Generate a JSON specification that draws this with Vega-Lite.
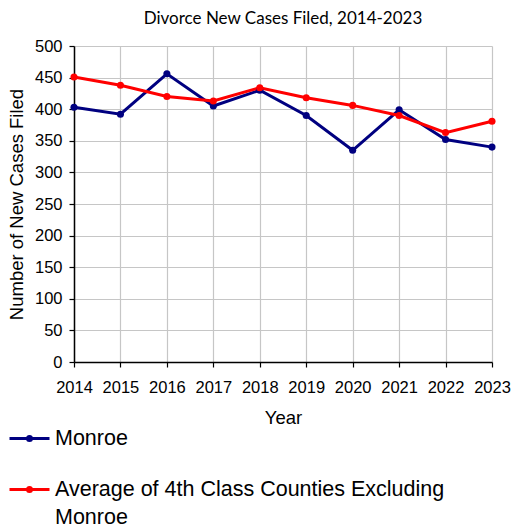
{
  "$schema": "https://vega.github.io/schema/vega-lite/v6.json",
  "width": 418,
  "height": 316,
  "autosize": {"type": "none"},
  "padding": {"left": 74, "top": 46, "right": 21, "bottom": 167},
  "background": "white",
  "title": {"text": "Divorce New Cases Filed, 2014-2023", "fontSize": 17, "font": "Lato", "fontWeight": "normal", "color": "black", "offset": 10, "anchor": "middle"},
  "config": {
    "view": {"stroke": null},
    "axis": {"labelFont": "Liberation Sans", "titleFont": "Liberation Sans", "labelFontSize": 16.5, "titleFontSize": 18.5, "titleFontWeight": "normal", "labelColor": "black", "titleColor": "black", "domainColor": "black", "domainWidth": 1.5, "tickColor": "black", "tickSize": 5, "tickWidth": 1.2, "gridColor": "#c6c6c6", "gridWidth": 1.2, "gridOpacity": 1, "labelOverlap": false, "labelFlush": false}
  },
  "data": {"values": [
    {"year": 2014, "series": "Monroe", "value": 403},
    {"year": 2015, "series": "Monroe", "value": 392},
    {"year": 2016, "series": "Monroe", "value": 456},
    {"year": 2017, "series": "Monroe", "value": 405},
    {"year": 2018, "series": "Monroe", "value": 430},
    {"year": 2019, "series": "Monroe", "value": 390},
    {"year": 2020, "series": "Monroe", "value": 335},
    {"year": 2021, "series": "Monroe", "value": 399},
    {"year": 2022, "series": "Monroe", "value": 352},
    {"year": 2023, "series": "Monroe", "value": 340},
    {"year": 2014, "series": "Average of 4th Class Counties Excluding Monroe", "value": 451},
    {"year": 2015, "series": "Average of 4th Class Counties Excluding Monroe", "value": 438},
    {"year": 2016, "series": "Average of 4th Class Counties Excluding Monroe", "value": 420},
    {"year": 2017, "series": "Average of 4th Class Counties Excluding Monroe", "value": 413},
    {"year": 2018, "series": "Average of 4th Class Counties Excluding Monroe", "value": 434},
    {"year": 2019, "series": "Average of 4th Class Counties Excluding Monroe", "value": 418},
    {"year": 2020, "series": "Average of 4th Class Counties Excluding Monroe", "value": 406},
    {"year": 2021, "series": "Average of 4th Class Counties Excluding Monroe", "value": 390},
    {"year": 2022, "series": "Average of 4th Class Counties Excluding Monroe", "value": 363},
    {"year": 2023, "series": "Average of 4th Class Counties Excluding Monroe", "value": 381}
  ]},
  "mark": {"type": "line", "strokeWidth": 3, "point": {"filled": true, "size": 50}},
  "encoding": {
    "x": {"field": "year", "type": "quantitative", "scale": {"domain": [2014, 2023], "nice": false, "zero": false},
      "axis": {"values": [2014, 2015, 2016, 2017, 2018, 2019, 2020, 2021, 2022, 2023], "format": "d", "title": "Year", "labelPadding": 12, "titlePadding": 13}},
    "y": {"field": "value", "type": "quantitative", "scale": {"domain": [0, 500], "nice": false},
      "axis": {"values": [0, 50, 100, 150, 200, 250, 300, 350, 400, 450, 500], "title": "Number of New Cases Filed", "labelPadding": 7, "titlePadding": 8}},
    "color": {"field": "series", "type": "nominal", "sort": ["Monroe", "Average of 4th Class Counties Excluding Monroe"],
      "scale": {"domain": ["Monroe", "Average of 4th Class Counties Excluding Monroe"], "range": ["#000080", "#ff0000"]},
      "legend": {"orient": "none", "legendX": -66, "legendY": 371, "title": null, "direction": "vertical",
        "labelFont": "Liberation Sans", "labelFontSize": 21.5, "labelColor": "black", "labelLimit": 600,
        "labelExpr": "datum.label == 'Monroe' ? 'Monroe' : ['Average of 4th Class Counties Excluding', 'Monroe']",
        "symbolType": "M-1,0L1,0M-0.1,0A0.1,0.1 0 1,1 0.1,0A0.1,0.1 0 1,1 -0.1,0",
        "symbolSize": 1600, "symbolStrokeWidth": 3, "symbolFillColor": "transparent", "labelOffset": 4, "rowPadding": 19,
        "encode": {"labels": {"update": {"lineHeight": {"value": 28}}}}}
    }
  }
}
